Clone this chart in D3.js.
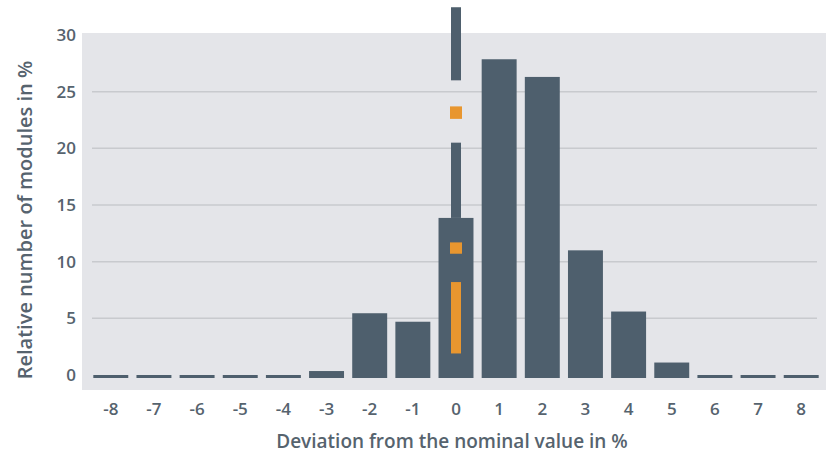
<!DOCTYPE html>
<html>
<head>
<meta charset="utf-8">
<script src="https://cdn.jsdelivr.net/npm/d3@7"></script>
<style>
  body { margin: 0; background: #fff; }
  text { font-family: "Open Sans", sans-serif; font-weight: 600; fill: #56636e; }
</style>
</head>
<body>
<div id="chart"></div>
<script>
// data
var deviations = [-8, -7, -6, -5, -4, -3, -2, -1, 0, 1, 2, 3, 4, 5, 6, 7, 8];
var shares = [0, 0, 0, 0, 0, 0.35, 5.45, 4.7, 13.86, 27.86, 26.3, 11.0, 5.6, 1.1, 0, 0, 0];
var yTicks = [0, 5, 10, 15, 20, 25, 30];
// odd marks drawn over the bar at 0 (value ranges)
var darkMarks = [[26.0, 32.45], [13.86, 20.5]];
var orangeMarks = [[22.6, 23.7], [10.7, 11.7], [1.9, 8.2]];

var width = 826, height = 457;
var plot = {left: 82, right: 826, top: 33, bottom: 390};

var svg = d3.select("#chart")
    .append("svg")
        .attr("width", width)
        .attr("height", height);

var x = d3.scaleBand()
    .domain(deviations)
    .range([89, 823])
    .paddingInner(0.19)
    .paddingOuter(0.1);

var y = d3.scaleLinear().domain([0, 30]).range([375, 35]);
var base = 3; // bars sit a little below the zero line

// plot background
svg.append("rect")
    .attr("x", plot.left)
    .attr("y", plot.top)
    .attr("width", plot.right - plot.left)
    .attr("height", plot.bottom - plot.top)
    .attr("fill", "#e4e5e9");

// gridlines
svg.selectAll(".grid")
    .data(yTicks.filter(d => d > 0 && d < 30))
    .enter()
    .append("line")
        .attr("class", "grid")
        .attr("x1", 92)
        .attr("x2", 817)
        .attr("y1", d => y(d))
        .attr("y2", d => y(d))
        .style("stroke", "#c8cace")
        .style("stroke-width", "1.5px");

// y tick labels
svg.selectAll(".ylab")
    .data(yTicks)
    .enter()
    .append("text")
        .attr("class", "ylab")
        .attr("text-anchor", "end")
        .attr("x", 76)
        .attr("y", d => y(d))
        .attr("dy", "0.35em")
        .attr("font-size", "17px")
        .text(d => d);

// bars
svg.selectAll(".bar")
    .data(deviations)
    .enter()
    .append("rect")
        .attr("class", "bar")
        .attr("x", d => x(d))
        .attr("width", x.bandwidth())
        .attr("y", (d, i) => y(shares[i]))
        .attr("height", (d, i) => y(0) - y(shares[i]) + base)
        .attr("fill", "#4e5f6d");

// marks on the 0 bar
var cx = x(0) + x.bandwidth() / 2;
svg.selectAll(".dark-mark")
    .data(darkMarks)
    .enter()
    .append("rect")
        .attr("x", cx - 5)
        .attr("width", 10)
        .attr("y", d => y(d[1]))
        .attr("height", d => y(d[0]) - y(d[1]))
        .attr("fill", "#4e5f6d");

svg.selectAll(".orange-mark")
    .data(orangeMarks)
    .enter()
    .append("rect")
        .attr("x", d => (d[1] - d[0] > 2 ? cx - 5 : cx - 6))
        .attr("width", d => (d[1] - d[0] > 2 ? 10 : 12))
        .attr("y", d => y(d[1]))
        .attr("height", d => y(d[0]) - y(d[1]))
        .attr("fill", "#e8962f");

// x tick labels
svg.selectAll(".xlab")
    .data(deviations)
    .enter()
    .append("text")
        .attr("class", "xlab")
        .attr("text-anchor", "middle")
        .attr("x", d => x(d) + x.bandwidth() / 2)
        .attr("y", 409)
        .attr("dy", "0.35em")
        .attr("font-size", "17px")
        .text(d => d);

// axis titles
svg.append("text")
    .attr("text-anchor", "middle")
    .attr("x", 452)
    .attr("y", 448)
    .attr("font-size", "19px")
    .text("Deviation from the nominal value in %");

svg.append("text")
    .attr("text-anchor", "middle")
    .attr("transform", "translate(32,220) rotate(-90)")
    .attr("font-size", "20px")
    .text("Relative number of modules in %");
</script>
</body>
</html>
